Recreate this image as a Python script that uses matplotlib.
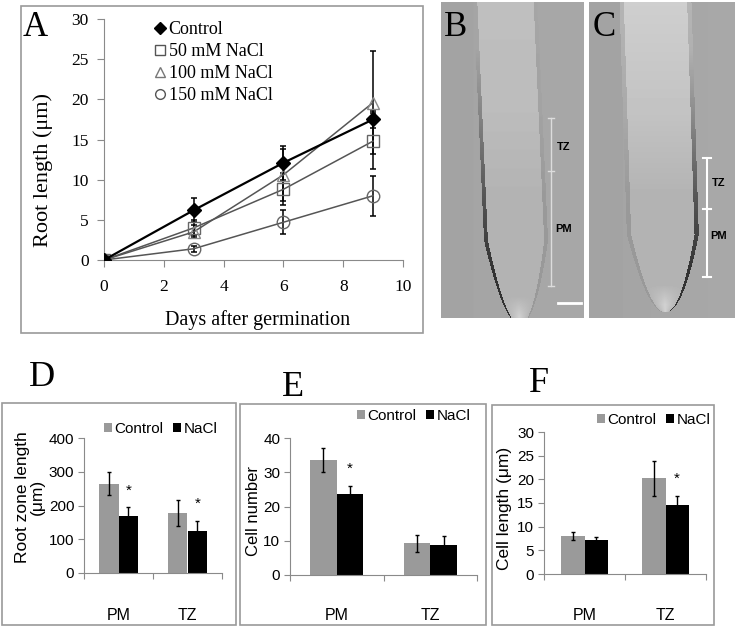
import numpy as np
import matplotlib
matplotlib.use("Agg")
import matplotlib.pyplot as plt
from matplotlib.lines import Line2D
from matplotlib.patches import Rectangle

# ---- panel A data: root length (um) vs days after germination ----
days = [0, 3, 6, 9]
ctrl_len = [0.0, 6.2, 12.1, 17.5]
ctrl_err = [0.2, 1.5, 2.1, 1.1]
nacl50_len = [0.0, 4.0, 8.8, 14.8]
nacl50_err = [0.2, 1.0, 2.0, 3.5]
nacl100_len = [0.0, 3.5, 10.6, 19.6]
nacl100_err = [0.2, 0.8, 3.2, 6.4]
nacl150_len = [0.0, 1.4, 4.7, 8.0]
nacl150_err = [0.2, 0.4, 1.5, 2.5]

# ---- panels D-F data ----
zones = ["PM", "TZ"]
zone_len_ctrl = [265, 177]
zone_len_ctrl_err = [35, 38]
zone_len_nacl = [168, 123]
zone_len_nacl_err = [27, 32]
cell_num_ctrl = [33.5, 9.2]
cell_num_ctrl_err = [3.5, 2.6]
cell_num_nacl = [23.6, 8.9]
cell_num_nacl_err = [2.4, 2.6]
cell_len_ctrl = [8.0, 20.2]
cell_len_ctrl_err = [0.8, 3.7]
cell_len_nacl = [7.2, 14.5]
cell_len_nacl_err = [0.7, 2.0]

W, H = 737, 628
fig = plt.figure(figsize=(W / 100, H / 100), dpi=100)

SERIF = ["Liberation Serif", "DejaVu Serif"]
SANS = ["Liberation Sans", "DejaVu Sans"]


def rect(l, t, r, b):
    return [l / W, 1 - b / H, (r - l) / W, (b - t) / H]


def box(l, t, r, b, color="#9a9a9a"):
    fig.add_artist(Rectangle((l / W, 1 - b / H), (r - l) / W, (b - t) / H,
                             transform=fig.transFigure, fill=False,
                             edgecolor=color, lw=1.2))


def ftext(x, y, s, **kw):
    fig.text(x / W, 1 - y / H, s, **kw)


# ================= A =================
box(21, 6, 423, 333)
ax = fig.add_axes(rect(104, 19, 403, 260))
ax.set_xlim(0, 10)
ax.set_ylim(0, 30)
for sp in ["top", "right"]:
    ax.spines[sp].set_visible(False)
for sp in ["left", "bottom"]:
    ax.spines[sp].set_color("#8a8a8a")
ax.set_xticks(range(0, 11, 2))
ax.set_yticks(range(0, 31, 5))
ax.tick_params(colors="#8a8a8a", labelcolor="black", length=5, direction="out")
ax.tick_params(axis="x", pad=9)
ax.tick_params(axis="y", pad=6)
for lab in ax.get_xticklabels() + ax.get_yticklabels():
    lab.set_fontfamily(SERIF)
    lab.set_fontsize(12.5)

series = [
    (nacl150_len, nacl150_err, dict(color="#555555", lw=1.1, marker="o", ms=9,
                                     mfc="none", mec="#666666")),
    (nacl50_len, nacl50_err, dict(color="#555555", lw=1.1, marker="s", ms=8,
                                   mfc="none", mec="#666666")),
    (nacl100_len, nacl100_err, dict(color="#555555", lw=1.1, marker="^", ms=8,
                                     mfc="none", mec="#8a8a8a")),
    (ctrl_len, ctrl_err, dict(color="black", lw=1.6, marker="D", ms=7,
                               mfc="black", mec="black")),
]
for vals, errs, st in series:
    ax.errorbar(days, vals, yerr=errs, ecolor="black", elinewidth=1.1,
                capsize=2, capthick=1.1, zorder=3, **st)

handles = [
    Line2D([], [], ls="none", marker="D", ms=6, mfc="black", mec="black"),
    Line2D([], [], ls="none", marker="s", ms=7, mfc="none", mec="#555555"),
    Line2D([], [], ls="none", marker="^", ms=7, mfc="none", mec="#777777"),
    Line2D([], [], ls="none", marker="o", ms=7, mfc="none", mec="#555555"),
]
ax.legend(handles, ["Control", "50 mM NaCl", "100 mM NaCl", "150 mM NaCl"],
          loc="upper left", bbox_to_anchor=(155 / W, 1 - 21 / H),
          bbox_transform=fig.transFigure, frameon=False, handlelength=0.6,
          handletextpad=0.15, borderpad=0, borderaxespad=0, labelspacing=0.28,
          prop={"family": SERIF, "size": 13})

ftext(43, 170, "Root length (\u03bcm)", rotation=90, ha="center", va="center",
      family=SERIF, fontsize=16)
ftext(258, 320, "Days after germination", ha="center", va="center",
      family=SERIF, fontsize=14.5)
ftext(35, 27, "A", ha="center", va="center", family=SERIF, fontsize=25)


# ================= B, C (micrographs, drawn as a shaded sketch) =================
def root_image(w, h, c_top, c_bot, hw, taper_start, tip_y, dark_side, top_bright):
    yy, xx = np.mgrid[0:h, 0:w].astype(float)
    img = np.full((h, w), 0.64) + 0.02 * (xx / w)
    centre = c_top + (c_bot - c_top) * yy / h
    half = np.where(yy < taper_start, hw,
                    hw * np.sqrt(np.clip((tip_y - yy) / (tip_y - taper_start), 0, 1)))
    d = (xx - centre) / np.maximum(half, 1e-3)
    inside = np.abs(d) < 1
    body = 0.73 + top_bright * np.clip(1 - yy / (h * 0.6), 0, 1)
    body = body - 0.03 * np.clip((yy - h * 0.35) / (h * 0.3), 0, 1)
    tip_zone = np.clip((yy - (tip_y - 28)) / 20, 0, 1)
    body = body + 0.12 * tip_zone * (1 - np.abs(d))
    img = np.where(inside, body, img)
    edge = inside & (np.abs(d) > 0.88)
    side = np.sign(d) == dark_side
    depth = np.clip((yy - h * 0.15) / (h * 0.7), 0, 1)
    img = np.where(edge & side, body - 0.40 * depth - 0.10, img)
    img = np.where(edge & ~side, body - 0.10, img)
    return np.clip(img, 0, 1)


axb = fig.add_axes(rect(441, 2, 584, 318))
axb.imshow(root_image(143, 316, 64, 78, 32, 238, 322, -1, 0.02),
           cmap="gray", vmin=0, vmax=1, extent=(441, 584, 318, 2), aspect="auto")
axb.set_xlim(441, 584)
axb.set_ylim(318, 2)
axb.axis("off")
axb.plot([551, 551], [118, 286], color="#dcdcdc", lw=1)
for yv in [118, 171, 286]:
    axb.plot([548, 554], [yv, yv], color="#dcdcdc", lw=1)
axb.plot([558, 581], [303, 303], color="white", lw=2)
axb.text(564, 147, "TZ", ha="center", va="center", fontsize=8, weight="bold",
         family="Liberation Sans")
axb.text(564, 229, "PM", ha="center", va="center", fontsize=8, weight="bold",
         family="Liberation Sans")
axb.text(456, 27, "B", ha="center", va="center", family=SERIF, fontsize=25)

axc = fig.add_axes(rect(589, 2, 735, 318))
axc.imshow(root_image(146, 316, 66, 76, 36, 232, 310, 1, 0.08),
           cmap="gray", vmin=0, vmax=1, extent=(589, 735, 318, 2), aspect="auto")
axc.set_xlim(589, 735)
axc.set_ylim(318, 2)
axc.axis("off")
axc.plot([707, 707], [158, 277], color="white", lw=1.5)
for yv in [158, 209, 277]:
    axc.plot([703, 711], [yv, yv], color="white", lw=1.5)
axc.text(719, 183, "TZ", ha="center", va="center", fontsize=8, weight="bold",
         family="Liberation Sans")
axc.text(719, 236, "PM", ha="center", va="center", fontsize=8, weight="bold",
         family="Liberation Sans")
axc.text(604, 27, "C", ha="center", va="center", family=SERIF, fontsize=25)


# ================= D, E, F =================
def bar_panel(box_px, ax_px, ymax, ystep, ctrl, ctrl_err, nacl, nacl_err,
              ylabel, ylab_xy, ylab_size, leg_xy, letter, letter_xy, star_idx,
              cat_y):
    box(*box_px)
    a = fig.add_axes(rect(*ax_px))
    x = np.arange(len(zones))
    bw = 1 / 3.5
    a.bar(x - bw / 2, ctrl, bw, color="#9a9a9a", yerr=ctrl_err,
          error_kw=dict(ecolor="black", elinewidth=1, capsize=1.5, capthick=1),
          label="Control")
    a.bar(x + bw / 2, nacl, bw, color="black", yerr=nacl_err,
          error_kw=dict(ecolor="black", elinewidth=1, capsize=1.5, capthick=1),
          label="NaCl")
    a.set_xlim(-0.5, len(zones) - 0.5)
    a.set_ylim(0, ymax)
    a.set_yticks(np.arange(0, ymax + ystep / 2, ystep))
    a.set_xticks(np.arange(-0.5, len(zones), 1.0))
    a.set_xticklabels([])
    for sp in ["top", "right"]:
        a.spines[sp].set_visible(False)
    for sp in ["left", "bottom"]:
        a.spines[sp].set_color("#8a8a8a")
    a.tick_params(colors="#8a8a8a", labelcolor="black", length=4, direction="out")
    a.tick_params(axis="y", pad=3)
    for lab in a.get_yticklabels():
        lab.set_fontfamily(SANS)
        lab.set_fontsize(11)
    for i in star_idx:
        a.annotate("*", (x[i] + bw / 2, nacl[i] + nacl_err[i]), xytext=(0, 7),
                   textcoords="offset points", ha="center", va="bottom",
                   fontsize=11, family="Liberation Sans")
    for i, z in enumerate(zones):
        xf = a.transData.transform((x[i], 0))[0]
        fig.text(xf / W, 1 - cat_y / H, z, ha="center", va="center",
                 family=SANS, fontsize=11.5)
    a.legend(loc="center left", bbox_to_anchor=(leg_xy[0] / W, 1 - leg_xy[1] / H),
             bbox_transform=fig.transFigure, ncol=2, frameon=False,
             handlelength=0.55, handleheight=0.55, handletextpad=0.15,
             columnspacing=0.6, borderpad=0, borderaxespad=0,
             prop={"family": SANS, "size": 11})
    ftext(*ylab_xy, ylabel, rotation=90, ha="center", va="center", family=SANS,
          fontsize=ylab_size, linespacing=1.0)
    ftext(*letter_xy, letter, ha="center", va="center", family=SERIF, fontsize=26)
    return a


bar_panel((2, 403, 236, 625), (84, 438, 222, 573), 400, 100,
          zone_len_ctrl, zone_len_ctrl_err, zone_len_nacl, zone_len_nacl_err,
          "Root zone length\n(\u03bcm)", (30, 497), 12.5, (104, 429),
          "D", (42, 378), [0, 1], 616)
bar_panel((240, 404, 486, 625), (290, 438, 477, 575), 40, 10,
          cell_num_ctrl, cell_num_ctrl_err, cell_num_nacl, cell_num_nacl_err,
          "Cell number", (253, 511), 12, (357, 416),
          "E", (293, 388), [0], 616)
bar_panel((492, 405, 714, 625), (544, 432, 706, 574), 30, 5,
          cell_len_ctrl, cell_len_ctrl_err, cell_len_nacl, cell_len_nacl_err,
          "Cell length (\u03bcm)", (505, 508), 12.5, (597, 420),
          "F", (539, 383), [1], 616)

fig.savefig("out.png", dpi=100)
